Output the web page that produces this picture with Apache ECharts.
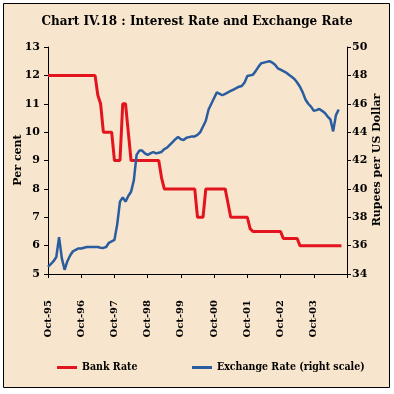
<!DOCTYPE html>
<html><head><meta charset="utf-8">
<script src="https://cdn.jsdelivr.net/npm/echarts@6/dist/echarts.min.js"></script>
<style>html,body{margin:0;padding:0;background:#fff}#c{width:394px;height:394px}</style>
</head><body><div id="c"></div>
<script>
// Months Oct-95 .. Oct-04 (109 monthly categories)
const monthNames = ['Jan','Feb','Mar','Apr','May','Jun','Jul','Aug','Sep','Oct','Nov','Dec'];
const startYear = 1995, startMonth = 9, monthCount = 109;
const categories = [];
for (let i = 0; i < monthCount; i++) {
  const m = (startMonth + i) % 12;
  const y = startYear + Math.floor((startMonth + i) / 12);
  categories.push(monthNames[m] + '-' + String(y % 100).padStart(2, '0'));
}
const tickLabels = ['Oct-95','Oct-96','Oct-97','Oct-98','Oct-99','Oct-00','Oct-01','Oct-02','Oct-03'];

// Bank Rate (per cent), monthly from Oct-95
const bankRate = [
  12,12,12,12,12,12,12,12,12,12,12,12, // Oct-95..Sep-96
  12,12,12,12,12,12,11.3,11,10,10,10,10, // Oct-96..Sep-97
  9,9,9,11,11,10,9,9,9,9,9,9, // Oct-97..Sep-98
  9,9,9,9,9,8.4,8,8,8,8,8,8, // Oct-98..Sep-99
  8,8,8,8,8,8,7,7,7,8,8,8, // Oct-99..Sep-00
  8,8,8,8,8,7.5,7,7,7,7,7,7, // Oct-00..Sep-01
  7,6.6,6.5,6.5,6.5,6.5,6.5,6.5,6.5,6.5,6.5,6.5, // Oct-01..Sep-02
  6.5,6.25,6.25,6.25,6.25,6.25,6.25,6,6,6,6,6, // Oct-02..Sep-03
  6,6,6,6,6,6,6,6,6,6,6 // Oct-03..Aug-04
];

// Exchange rate (Rupees per US Dollar), monthly from Oct-95
const exchangeRate = [
  34.5,34.7,34.9,35.2,36.6,35.1,34.3,34.9,35.3,35.6,35.7,35.8,
  35.8,35.85,35.9,35.9,35.9,35.9,35.9,35.85,35.84,35.9,36.2,36.3,
  36.4,37.5,39.1,39.4,39.1,39.5,39.8,40.6,42.4,42.7,42.7,42.5,
  42.4,42.5,42.6,42.5,42.55,42.6,42.8,42.9,43.1,43.3,43.5,43.65,
  43.5,43.45,43.6,43.65,43.7,43.7,43.8,44.0,44.4,44.8,45.6,46.0,
  46.4,46.8,46.7,46.6,46.7,46.8,46.9,47.0,47.1,47.2,47.25,47.5,
  47.95,48.0,48.05,48.3,48.6,48.85,48.9,48.95,49.0,48.9,48.75,48.5,
  48.4,48.3,48.2,48.05,47.9,47.75,47.5,47.2,46.8,46.3,46.0,45.8,
  45.5,45.55,45.63,45.5,45.35,45.1,44.9,44.05,45.2,45.6
];

const leftTicks = {min: 5, max: 13, interval: 1};
const rightTicks = {min: 34, max: 50, interval: 2};
const leftAxisName = 'Per cent';
const rightAxisName = 'Rupees per US Dollar';

const FONT = 'DejaVu Serif';
const FONT_C = '"DejaVu Serif Condensed", "Liberation Serif", serif';
const nameFont = 'bold 11px "DejaVu Serif"';
const chart = echarts.init(document.getElementById('c'), null, {renderer: 'canvas'});
chart.setOption({
  animation: false,
  backgroundColor: '#ffffff',
  graphic: [{
    type: 'rect', z: -10, silent: true,
    shape: {x: 3.5, y: 3.5, width: 386, height: 384},
    style: {fill: '#F7E5CD', stroke: '#000', lineWidth: 1}
  }, {
    type: 'text', x: 18, y: 160, rotation: Math.PI / 2, silent: true,
    style: {text: leftAxisName, font: nameFont, fill: '#000', align: 'center', verticalAlign: 'middle'}
  }, {
    type: 'text', x: 377, y: 160, rotation: Math.PI / 2, silent: true,
    style: {text: rightAxisName, font: nameFont, fill: '#000', align: 'center', verticalAlign: 'middle'}
  }],
  title: {
    text: 'Chart IV.18 : Interest Rate and Exchange Rate',
    left: 'center', top: 11,
    textStyle: {fontFamily: FONT, fontWeight: 'bold', fontSize: 12, color: '#000'}
  },
  legend: [{
    data: ['Bank Rate'], left: 57, top: 362, padding: 0, icon: 'rect', itemWidth: 20, itemHeight: 3,
    textStyle: {fontFamily: FONT_C, fontWeight: 'bold', fontSize: 10.5, color: '#000'}
  }, {
    data: ['Exchange Rate (right scale)'], left: 192, top: 362, padding: 0, icon: 'rect', itemWidth: 20, itemHeight: 3,
    textStyle: {fontFamily: FONT_C, fontWeight: 'bold', fontSize: 10.5, color: '#000'}
  }],
  grid: {left: 48, right: 47, top: 47, bottom: 120},
  xAxis: {
    type: 'category', data: categories, boundaryGap: false,
    axisLine: {lineStyle: {color: '#000', width: 1}},
    axisTick: {interval: 11, length: 4, inside: false, lineStyle: {color: '#000'}},
    axisLabel: {
      interval: 11, rotate: 90, margin: 26, color: '#000',
      fontFamily: FONT, fontWeight: 'bold', fontSize: 10,
      formatter: (v) => tickLabels.indexOf(v) >= 0 ? v : ''
    },
    splitLine: {show: false}
  },
  yAxis: [{
    type: 'value', min: leftTicks.min, max: leftTicks.max, interval: leftTicks.interval,
    axisLine: {show: true, lineStyle: {color: '#000'}},
    axisTick: {show: true, length: 4, lineStyle: {color: '#000'}},
    axisLabel: {fontFamily: FONT, fontWeight: 'bold', fontSize: 11, color: '#000', margin: 8},
    splitLine: {show: false}
  }, {
    type: 'value', min: rightTicks.min, max: rightTicks.max, interval: rightTicks.interval,
    axisLine: {show: true, lineStyle: {color: '#000'}},
    axisTick: {show: true, length: 4, lineStyle: {color: '#000'}},
    axisLabel: {fontFamily: FONT, fontWeight: 'bold', fontSize: 11, color: '#000', margin: 5},
    splitLine: {show: false}
  }],
  series: [{
    name: 'Bank Rate', type: 'line', yAxisIndex: 0, data: bankRate,
    showSymbol: false, symbol: 'none', color: '#E3141E',
    lineStyle: {color: '#E3141E', width: 3}
  }, {
    name: 'Exchange Rate (right scale)', type: 'line', yAxisIndex: 1, data: exchangeRate,
    showSymbol: false, symbol: 'none', color: '#2A5CA0',
    lineStyle: {color: '#2A5CA0', width: 2.5}
  }]
});
</script></body></html>
